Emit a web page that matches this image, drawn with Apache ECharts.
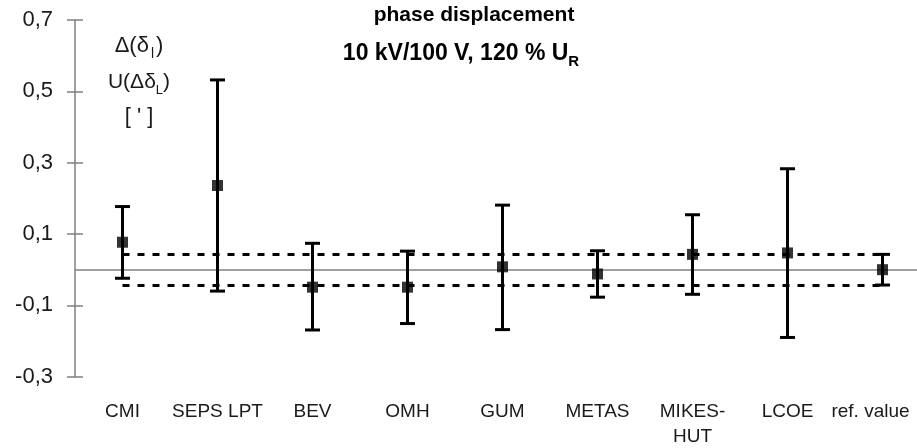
<!DOCTYPE html>
<html>
<head>
<meta charset="utf-8">
<script src="https://cdn.jsdelivr.net/npm/echarts@6/dist/echarts.min.js"></script>
<style>
html,body{margin:0;padding:0;background:#fff;}
#chart{width:917px;height:448px;}
</style>
</head>
<body>
<div id="chart"></div>
<script>
// ---- data ----
var categories = ['CMI', 'SEPS LPT', 'BEV', 'OMH', 'GUM', 'METAS', 'MIKES-\nHUT', 'LCOE', 'ref. value'];
var values = [0.077, 0.236, -0.049, -0.049, 0.008, -0.012, 0.043, 0.047, 0.000];
var upper  = [0.177, 0.532, 0.074, 0.052, 0.181, 0.053, 0.154, 0.283, 0.043];
var lower  = [-0.024, -0.060, -0.169, -0.151, -0.168, -0.077, -0.069, -0.190, -0.043];
var refBandUpper = 0.043;
var refBandLower = -0.043;
var yTicks = [-0.3, -0.1, 0.1, 0.3, 0.5, 0.7];

var sans = "'Liberation Sans', Arial, sans-serif";
var chart = echarts.init(document.getElementById('chart'), null, {renderer: 'canvas'});

var errData = categories.map(function (c, i) { return [i, lower[i], upper[i]]; });
var ptData = categories.map(function (c, i) { return [i, values[i]]; });

var option = {
  animation: false,
  backgroundColor: '#fff',
  grid: {left: 75, top: 20, height: 356.7, width: 855, containLabel: false, outerBoundsMode: 'none'},
  xAxis: {
    type: 'category',
    data: categories,
    boundaryGap: true,
    axisLine: {show: false},
    axisTick: {show: false},
    axisLabel: {
      margin: 23, color: '#1a1a1a', fontFamily: sans, fontSize: 19, lineHeight: 25, interval: 0,
      formatter: function (v, i) {
        return i === categories.length - 1 ? '{r|' + v + '}' : v;
      },
      rich: {r: {fontFamily: sans, fontSize: 19, color: '#1a1a1a', padding: [0, 24, 0, 0]}}
    },
    splitLine: {show: false}
  },
  yAxis: [{
    type: 'value',
    min: yTicks[0], max: yTicks[yTicks.length - 1], interval: 0.2,
    axisLine: {show: true, lineStyle: {color: '#808080', width: 1.5}},
    axisTick: {show: true, length: 8, lineStyle: {color: '#808080', width: 1.5}},
    axisLabel: {
      margin: 22, color: '#1a1a1a', fontFamily: sans, fontSize: 22,
      formatter: function (v) { return (Math.round(v * 10) / 10).toFixed(1).replace('.', ','); }
    },
    splitLine: {show: false}
  }, {
    type: 'value',
    position: 'left',
    min: yTicks[0], max: yTicks[yTicks.length - 1], interval: 0.2,
    axisLine: {show: false},
    axisTick: {show: true, inside: true, length: 8, lineStyle: {color: '#808080', width: 1.5}},
    axisLabel: {show: false},
    splitLine: {show: false}
  }],
  series: [{
    type: 'line',
    data: [],
    markLine: {
      silent: true, symbol: 'none', label: {show: false},
      data: [
        [{coord: [0, refBandUpper]}, {coord: [categories.length - 1, refBandUpper]}],
        [{coord: [0, refBandLower]}, {coord: [categories.length - 1, refBandLower]}]
      ],
      lineStyle: {color: '#000', width: 3, type: [7, 8]}
    }
  }, {
    type: 'line',
    data: [],
    markLine: {
      silent: true, symbol: 'none', label: {show: false},
      data: [{yAxis: 0}],
      lineStyle: {color: '#808080', width: 1.5, type: 'solid'}
    }
  }, {
    type: 'custom',
    data: errData,
    z: 5,
    renderItem: function (params, api) {
      var x = api.value(0);
      var lo = api.coord([x, api.value(1)]);
      var hi = api.coord([x, api.value(2)]);
      var hw = 7.5;
      var st = {stroke: '#000', lineWidth: 3};
      return {
        type: 'group',
        children: [
          {type: 'line', shape: {x1: lo[0], y1: lo[1], x2: hi[0], y2: hi[1]}, style: st},
          {type: 'line', shape: {x1: hi[0] - hw, y1: hi[1], x2: hi[0] + hw, y2: hi[1]}, style: st},
          {type: 'line', shape: {x1: lo[0] - hw, y1: lo[1], x2: lo[0] + hw, y2: lo[1]}, style: st}
        ]
      };
    }
  }, {
    type: 'scatter',
    data: ptData,
    z: 6,
    symbol: 'rect',
    symbolSize: 11,
    itemStyle: {color: '#000'}
  }],
  graphic: [
    {type: 'text', x: 474, y: 15, style: {text: 'phase displacement', font: "bold 21px " + sans, fill: '#000', textAlign: 'center', textVerticalAlign: 'middle'}},
    {type: 'text', x: 461, y: 51, style: {
      text: '{a|10 kV/100 V, 120 % U}{s|R}', textAlign: 'center', textVerticalAlign: 'middle',
      rich: {
        a: {font: "bold 23px " + sans, fill: '#000', lineHeight: 28, verticalAlign: 'bottom'},
        s: {font: "bold 15px " + sans, fill: '#000', lineHeight: 28, verticalAlign: 'bottom', padding: [0, 0, -4, 0]}
      }
    }},
    {type: 'text', x: 139, y: 44, style: {
      text: '{a|Δ(δ}{s|l}{a|)}', textAlign: 'center', textVerticalAlign: 'middle',
      rich: {
        a: {font: "22px " + sans, fill: '#1a1a1a', lineHeight: 26, verticalAlign: 'bottom'},
        s: {font: "14px " + sans, fill: '#1a1a1a', lineHeight: 26, verticalAlign: 'bottom', padding: [0, 2, -4, 2]}
      }
    }},
    {type: 'text', x: 139, y: 80, style: {
      text: '{a|U(Δδ}{s|L}{a|)}', textAlign: 'center', textVerticalAlign: 'middle',
      rich: {
        a: {font: "21px " + sans, fill: '#1a1a1a', lineHeight: 26, verticalAlign: 'bottom'},
        s: {font: "13px " + sans, fill: '#1a1a1a', lineHeight: 26, verticalAlign: 'bottom', padding: [0, 0, -4, 0]}
      }
    }},
    {type: 'text', x: 139, y: 117, style: {text: "[ ' ]", font: "22px " + sans, fill: '#1a1a1a', textAlign: 'center', textVerticalAlign: 'middle'}}
  ]
};
chart.setOption(option);
</script>
</body>
</html>
